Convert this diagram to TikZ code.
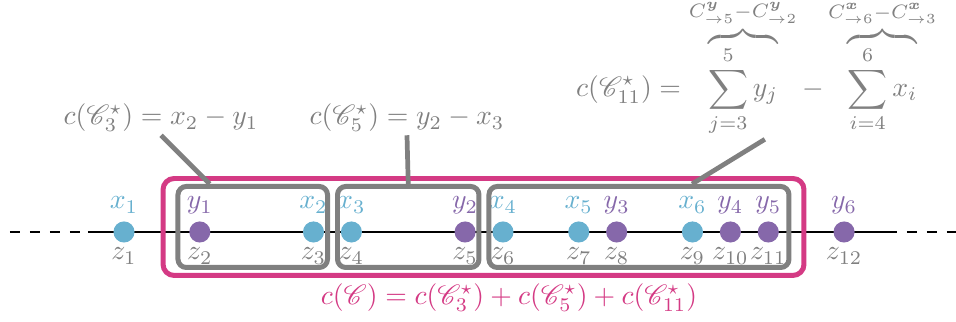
\documentclass[tikz,border=0pt]{standalone}
\usepackage{amsmath,amssymb,bm,mathrsfs}
\definecolor{dotx}{RGB}{103,176,207}
\definecolor{doty}{RGB}{134,104,170}
\definecolor{setc}{RGB}{212,58,132}
\definecolor{grayc}{RGB}{128,128,128}
\begin{document}
\begin{tikzpicture}[x=0.48cm, y=0.48cm,
	pt/.style={circle, inner sep=0pt, minimum size=7.6pt},
	tag/.style={anchor=base},
	cost/.style={tag, text=grayc, inner sep=1pt},
	gbox/.style={draw=grayc, line width=1.8pt, rounded corners=3pt, inner sep=0pt, minimum height=1.026cm},
	pointer/.style={draw=grayc, line width=1.7pt}]
	% --- Khung ---
	\useasboundingbox (-3.272,-2.375) rectangle (21.953,6.121);
	% --- Trục ---
	\draw[dash pattern=on 3.6pt off 3.6pt] (-3.01,0) -- (-0.95,0);
	\draw (-0.95,0) -- (20.13,0);
	\draw[dash pattern=on 3.6pt off 3.6pt] (20.13,0) -- (21.953,0);
	% --- Các điểm ---
	\foreach \i/\x/\c/\lab in {1/0/dotx/x_1, 2/2/doty/y_1, 3/5/dotx/x_2, 4/6/dotx/x_3, 5/9/doty/y_2, 6/10/dotx/x_4,
		7/12/dotx/x_5, 8/13/doty/y_3, 9/15/dotx/x_6, 10/16/doty/y_4, 11/17/doty/y_5, 12/19/doty/y_6}{
		\node[pt, fill=\c] (z\i) at (\x,0) {};
		\node[tag, text=\c] (t\i) at (\x,0.607) {$\lab$};
		\node[tag, text=grayc] (b\i) at (\x,-0.739) {$z_{\i}$};
	}
	% --- Các khối ---
	\node[gbox, minimum width=1.894cm] (C3) at (3.397,0.132) {};
	\node[gbox, minimum width=1.792cm] (C5) at (7.5,0.132) {};
	\node[gbox, minimum width=3.8cm] (C11) at (13.588,0.132) {};
	\node[draw=setc, line width=1.8pt, rounded corners=4pt, minimum width=8.118cm, minimum height=1.228cm, inner sep=0pt] (Call) at (9.486,0.132) {};
	% --- Chi phí ---
	\node[cost] (L3) at (0.976,2.823) {$c(\mathscr{C}^\star_3) = x_2 - y_1$};
	\node[cost] (L5) at (7.467,2.823) {$c(\mathscr{C}^\star_5) = y_2 - x_3$};
	\node[cost] (L11) at (16.69,3.57) {$\displaystyle c(\mathscr{C}^\star_{11}) = \overbrace{\sum_{j=3}^{5} y_j}^{C^{\bm y}_{\to 5}-C^{\bm y}_{\to 2}} - \overbrace{\sum_{i=4}^{6} x_i}^{C^{\bm x}_{\to 6}-C^{\bm x}_{\to 3}}$};
	\node[tag, text=setc] (Lall) at (10.158,-1.926) {$c(\mathscr{C}) = c(\mathscr{C}^\star_3) + c(\mathscr{C}^\star_5) + c(\mathscr{C}^\star_{11})$};
	\draw[pointer] (L3.south) -- (C3.135);
	\draw[pointer] (L5.south) -- (C5.north);
	\draw[pointer] ([xshift=3pt]L11.south) -- (C11.39);
\end{tikzpicture}
\end{document}
